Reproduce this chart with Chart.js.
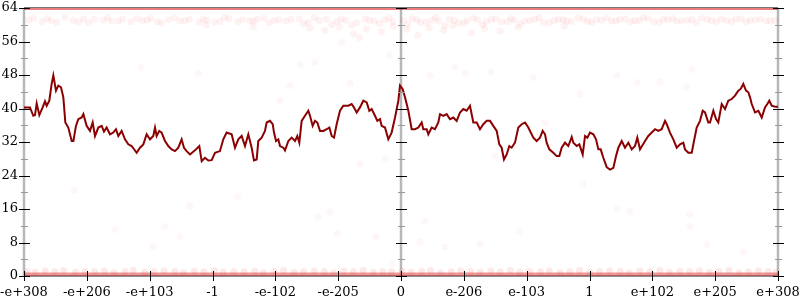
<!DOCTYPE html>
<html>
<head>
<meta charset="utf-8">
<script src="https://cdn.jsdelivr.net/npm/chart.js@4.4.0/dist/chart.umd.min.js"></script>
<style>
html, body { margin: 0; padding: 0; background: #fff; }
#wrap { width: 800px; height: 300px; }
</style>
</head>
<body>
<div id="wrap"><canvas id="chart" width="800" height="300"></canvas></div>
<script>
// x axis: evenly spaced positions, odd float labels
const xTickValues = [-6, -5, -4, -3, -2, -1, 0, 1, 2, 3, 4, 5, 6];
const xTickLabels = ['-e+308', '-e+206', '-e+103', '-1', '-e-102', '-e-205', '0', 'e-206', 'e-103', '1', 'e+102', 'e+205', 'e+308'];
const yMajorTicks = [0, 8, 16, 24, 32, 40, 48, 56, 64];
const yMinorTicks = [4, 12, 20, 28, 36, 44, 52, 60];
const verticalAxes = [-6, 0, 6];

// main series
const lineX = [
  -6.00, -5.905, -5.852, -5.825, -5.798, -5.756, -5.703, -5.666, -5.639, -5.597,
  -5.560, -5.533, -5.491, -5.454, -5.411, -5.374, -5.342, -5.295, -5.241, -5.214,
  -5.173, -5.136, -5.082, -5.055, -5.003, -4.950, -4.907, -4.870, -4.817, -4.764,
  -4.727, -4.685, -4.632, -4.579, -4.536, -4.499, -4.446, -4.393, -4.340, -4.287,
  -4.207, -4.154, -4.101, -4.048, -3.995, -3.942, -3.915, -3.889, -3.847, -3.810,
  -3.756, -3.703, -3.650, -3.597, -3.544, -3.491, -3.454, -3.412, -3.358, -3.279,
  -3.210, -3.172, -3.120, -3.066, -3.013, -2.960, -2.881, -2.828, -2.775, -2.695,
  -2.642, -2.589, -2.536, -2.483, -2.430, -2.377, -2.340, -2.297, -2.271, -2.217,
  -2.165, -2.138, -2.085, -2.042, -2.021, -1.989, -1.952, -1.926, -1.873, -1.846,
  -1.793, -1.740, -1.687, -1.650, -1.618, -1.581, -1.528, -1.475, -1.448, -1.406,
  -1.369, -1.332, -1.289, -1.236, -1.183, -1.140, -1.103, -1.066, -1.024, -0.971,
  -0.918, -0.838, -0.785, -0.748, -0.705, -0.653, -0.600, -0.546, -0.504, -0.467,
  -0.414, -0.377, -0.334, -0.308, -0.255, -0.202, -0.149, -0.095, -0.042, -0.016,
  0.026, 0.064, 0.117, 0.170, 0.223, 0.276, 0.329, 0.355, 0.409, 0.435,
  0.488, 0.541, 0.594, 0.621, 0.674, 0.727, 0.780, 0.833, 0.886, 0.939,
  0.992, 1.045, 1.098, 1.151, 1.205, 1.257, 1.310, 1.364, 1.417, 1.469,
  1.523, 1.565, 1.602, 1.639, 1.682, 1.724, 1.761, 1.814, 1.867, 1.921,
  1.974, 2.026, 2.106, 2.159, 2.212, 2.255, 2.292, 2.318, 2.361, 2.424,
  2.478, 2.520, 2.557, 2.610, 2.663, 2.717, 2.743, 2.796, 2.838, 2.892,
  2.929, 2.966, 3.008, 3.061, 3.104, 3.141, 3.178, 3.220, 3.274, 3.327,
  3.380, 3.422, 3.459, 3.513, 3.565, 3.618, 3.672, 3.724, 3.761, 3.804,
  3.884, 3.936, 3.990, 4.043, 4.095, 4.149, 4.202, 4.229, 4.281, 4.334,
  4.388, 4.441, 4.493, 4.520, 4.573, 4.627, 4.663, 4.706, 4.759, 4.802,
  4.838, 4.891, 4.918, 4.971, 5.014, 5.050, 5.104, 5.157, 5.209, 5.263,
  5.316, 5.368, 5.406, 5.448, 5.491, 5.528, 5.555, 5.582, 5.634, 5.688,
  5.741, 5.793, 5.830, 5.862, 5.900, 5.953, 6.000
];
const lineY = [
  40.26, 40.26, 38.26, 38.42, 41.22, 38.42, 40.26, 41.70, 40.66, 41.86,
  45.87, 47.88, 44.27, 45.47, 45.07, 42.67, 36.65, 35.45, 32.24, 32.24,
  35.85, 37.45, 37.85, 38.66, 35.85, 34.65, 36.65, 33.44, 35.45, 35.85,
  34.49, 35.45, 33.84, 34.25, 35.05, 33.44, 34.65, 32.64, 31.44, 31.04,
  29.43, 30.64, 31.44, 33.84, 32.64, 33.44, 35.45, 33.44, 34.65, 34.25,
  32.24, 31.04, 30.24, 29.83, 30.64, 32.64, 30.64, 29.83, 29.03, 30.00,
  31.04, 27.43, 28.23, 27.59, 27.67, 29.43, 29.83, 32.64, 34.25, 33.84,
  30.64, 32.64, 33.44, 31.04, 33.84, 30.64, 27.59, 27.83, 32.24, 33.04,
  34.65, 36.65, 37.05, 36.25, 34.25, 32.24, 32.64, 31.04, 30.64, 30.00,
  32.24, 33.04, 32.24, 33.44, 31.84, 37.05, 38.26, 39.46, 38.26, 35.85,
  37.05, 36.65, 34.65, 34.65, 35.05, 35.45, 33.44, 33.04, 36.25, 39.46,
  40.66, 40.66, 41.06, 40.26, 39.06, 40.26, 41.86, 41.46, 39.46, 39.86,
  38.26, 37.05, 37.45, 35.85, 35.45, 32.64, 34.25, 37.85, 41.86, 45.47,
  44.67, 42.67, 39.46, 35.05, 35.05, 35.45, 36.65, 35.05, 35.05, 33.84,
  35.45, 35.05, 36.65, 38.66, 38.26, 38.66, 37.45, 37.85, 37.05, 39.06,
  39.86, 39.46, 40.66, 36.65, 36.65, 35.05, 36.25, 37.05, 37.05, 35.85,
  34.65, 31.44, 30.64, 27.83, 29.03, 31.04, 30.64, 31.84, 35.45, 36.25,
  36.65, 35.45, 33.04, 32.24, 33.04, 34.65, 33.84, 31.84, 30.24, 29.43,
  28.63, 28.63, 30.64, 31.84, 31.04, 33.20, 31.84, 31.04, 31.44, 29.03,
  33.44, 33.04, 34.25, 33.84, 32.64, 30.24, 30.24, 28.23, 25.98, 25.42,
  25.82, 28.63, 30.64, 32.24, 30.64, 31.84, 30.24, 31.04, 33.04, 30.24,
  32.24, 33.44, 34.25, 35.05, 34.65, 35.05, 37.05, 36.25, 34.25, 32.64,
  30.64, 31.44, 31.84, 30.24, 29.43, 29.43, 32.24, 35.45, 37.05, 39.46,
  39.06, 36.65, 36.65, 39.46, 37.45, 36.65, 41.06, 39.86, 41.86, 42.26,
  43.07, 44.27, 44.67, 45.87, 44.27, 43.87, 42.67, 41.06, 39.06, 39.46,
  37.85, 40.26, 41.06, 41.86, 40.66, 40.42, 40.42
];

// faint scatter points
const edgeX = [-6, 6];
const topEdgeY = [63.8, 63.8];
const bottomEdgeY = [0.35, 0.35];

const topDotsX = [
  -5.92, -5.71, -5.63, -5.48, -5.22, -5.05, -4.97, -4.74, -4.61, -4.43,
  -4.30, -4.12, -3.98, -3.81, -3.70, -3.52, -3.37, -3.21, -3.09, -2.88,
  -2.74, -2.60, -2.41, -2.29, -2.10, -1.94, -1.83, -1.62, -1.48, -1.30,
  -1.19, -1.02, -0.88, -0.71, -0.57, -0.42, -0.26, -0.13, 0.04, 0.18,
  0.31, 0.49, 0.60, 0.77, 0.92, 1.05, 1.22, 1.36, 1.51, 1.69,
  1.80, 1.97, 2.13, 2.27, 2.44, 2.58, 2.71, 2.90, 3.03, 3.19,
  3.35, 3.48, 3.66, 3.79, 3.93, 4.11, 4.25, 4.39, 4.56, 4.70,
  4.87, 5.02, 5.18, 5.33, 5.49, 5.64, 5.81, 5.95
];
const topDotsY = [
  61.2, 60.8, 61.5, 60.6, 61.0, 61.4, 60.5, 61.1, 60.9, 61.3,
  60.7, 61.0, 61.6, 60.4, 61.2, 60.9, 61.3, 60.6, 61.1, 60.8,
  61.5, 60.7, 61.0, 61.3, 60.5, 61.2, 60.9, 61.4, 60.6, 61.0,
  61.3, 60.8, 61.1, 60.5, 61.4, 60.9, 61.2, 60.7, 61.0, 61.5,
  60.6, 61.1, 60.9, 61.3, 60.4, 61.0, 61.2, 60.8, 61.4, 60.7,
  61.1, 60.9, 61.3, 60.5, 61.0, 61.2, 60.8, 61.4, 60.6, 61.1,
  60.9, 61.3, 60.7, 61.0, 61.5, 60.6, 61.2, 60.9, 61.1, 60.5,
  61.3, 60.8, 61.0, 61.4, 60.7, 61.2, 60.9, 61.1
];
const topDots2X = [
  -5.84, -5.57, -5.35, -5.13, -4.88, -4.67, -4.50, -4.21, -4.04, -3.88,
  -3.61, -3.44, -3.15, -2.97, -2.81, -2.52, -2.35, -2.18, -2.02, -1.75,
  -1.55, -1.38, -1.10, -0.95, -0.79, -0.50, -0.34, -0.19, 0.11, 0.25,
  0.40, 0.55, 0.70, 0.85, 1.00, 1.15, 1.30, 1.44, 1.60, 1.75,
  1.90, 2.05, 2.20, 2.36, 2.51, 2.64, 2.82, 2.97, 3.11, 3.27,
  3.42, 3.57, 3.72, 3.86, 4.02, 4.18, 4.33, 4.47, 4.63, 4.78,
  4.94, 5.10, 5.26, 5.41, 5.56, 5.72, 5.88
];
const topDots2Y = [
  61.6, 61.0, 61.8, 60.7, 61.3, 61.7, 60.9, 61.5, 61.1, 60.8,
  61.7, 61.0, 61.4, 60.6, 61.8, 61.2, 60.9, 61.6, 61.0, 61.3,
  60.2, 61.7, 60.0, 61.4, 59.9, 61.1, 60.3, 61.6, 60.1, 61.2,
  60.6, 61.8, 59.8, 61.1, 60.4, 61.6, 60.0, 61.3, 60.7, 61.5,
  60.2, 61.0, 61.7, 60.5, 61.3, 60.9, 61.6, 60.8, 61.2, 61.7,
  60.9, 61.4, 61.0, 61.7, 60.8, 61.3, 61.5, 60.9, 61.2, 61.6,
  61.0, 61.4, 60.8, 61.5, 61.1, 61.3, 60.9
];
const lowTopDotsX = [-1.45, -1.21, -0.98, -0.76, -0.55, -0.31, -0.12, 0.09, 0.27, 0.45, 0.68, 0.83, 1.12, 1.33, 1.58, 1.86, -2.35, -3.10, 2.60, -0.66];
const lowTopDotsY = [59.2, 58.6, 59.5, 57.8, 59.0, 58.3, 59.6, 58.9, 57.5, 59.3, 58.7, 59.8, 58.1, 59.1, 58.5, 59.4, 59.6, 59.9, 59.7, 56.9];

const bottomDotsX = [
  -5.95, -5.82, -5.66, -5.51, -5.37, -5.18, -5.03, -4.88, -4.72, -4.57,
  -4.39, -4.26, -4.08, -3.93, -3.77, -3.60, -3.46, -3.29, -3.14, -2.97,
  -2.83, -2.66, -2.50, -2.33, -2.19, -2.02, -1.87, -1.70, -1.55, -1.38,
  -1.22, -1.07, -0.91, -0.76, -0.60, -0.44, -0.29, -0.15, 0.02, 0.16,
  0.33, 0.47, 0.63, 0.80, 0.95, 1.11, 1.26, 1.43, 1.58, 1.74,
  1.89, 2.05, 2.22, 2.36, 2.53, 2.69, 2.84, 3.01, 3.16, 3.32,
  3.49, 3.63, 3.80, 3.96, 4.12, 4.27, 4.44, 4.59, 4.75, 4.91,
  5.06, 5.22, 5.38, 5.53, 5.69, 5.84, 5.97
];
const bottomDotsY = [
  1.1, 0.9, 1.2, 1.0, 1.3, 0.9, 1.1, 1.0, 1.2, 0.8,
  1.1, 1.3, 0.9, 1.0, 1.2, 1.1, 0.8, 1.2, 1.0, 1.3,
  0.9, 1.1, 1.0, 1.2, 0.8, 1.1, 1.3, 0.9, 1.0, 1.2,
  1.1, 0.8, 1.2, 1.0, 1.3, 0.9, 1.1, 1.0, 1.2, 0.9,
  1.1, 1.3, 0.8, 1.0, 1.2, 1.1, 0.9, 1.2, 1.0, 1.3,
  0.9, 1.1, 1.0, 1.2, 0.8, 1.1, 1.3, 0.9, 1.0, 1.2,
  1.1, 0.8, 1.2, 1.0, 1.3, 0.9, 1.1, 1.0, 1.2, 0.9,
  1.1, 1.3, 0.8, 1.0, 1.2, 1.1, 0.9
];

const sparseX = [
  -4.14, -3.23, -4.55, -3.76, -3.95, -3.52, -3.36, -1.37, -0.94, -0.81,
  1.02, 1.43, -0.18, -1.32, -1.13, -1.02, -0.40, -0.14, 0.30, 0.38,
  0.70, 1.26, 1.89, 3.44, 3.76, 4.12, 4.63, 4.54, 3.44, 3.64,
  4.60, 5.44, 4.87, 4.60, -1.77, -1.60, -1.93, 0.46, 0.86, 1.50,
  -0.25, -0.65, 2.10, 2.30, 2.85, 3.72, 5.40, -5.20, -2.60, 2.90
];
const sparseY = [
  49.8, 48.4, 11.1, 11.8, 7.0, 9.4, 16.8, 51.0, 55.8, 46.0,
  48.4, 48.8, 52.7, 14.2, 15.2, 10.1, 9.4, 2.9, 8.2, 13.0,
  7.0, 7.7, 10.6, 47.9, 46.2, 46.4, 49.3, 45.0, 16.1, 15.4,
  14.7, 5.8, 7.5, 11.8, 45.5, 50.5, 41.9, 47.9, 50.0, 28.6,
  27.9, 26.7, 47.4, 36.6, 43.5, 33.0, 46.0, 20.5, 19.0, 22.0
];

const pts = (xs, ys) => xs.map((x, i) => ({ x: x, y: ys[i] }));

const dotStyle = {
    type: 'scatter',
    backgroundColor: 'rgba(235, 70, 70, 0.07)',
    borderWidth: 0,
    pointRadius: 3.5,
    pointHoverRadius: 3.5
};

// axis lines and ticks drawn through the scales
const axesPlugin = {
    id: 'axesPlugin',
    beforeDatasetsDraw(chart) {
        const { ctx, scales: { x, y } } = chart;
        const top = y.getPixelForValue(64);
        const bottom = y.getPixelForValue(0);
        ctx.save();
        ctx.strokeStyle = '#b8b8b8';
        ctx.lineWidth = 2.5;
        verticalAxes.forEach(v => {
            const px = x.getPixelForValue(v);
            ctx.beginPath();
            ctx.moveTo(px, top);
            ctx.lineTo(px, bottom);
            ctx.stroke();
        });
        ctx.strokeStyle = '#666';
        ctx.lineWidth = 1.5;
        ctx.beginPath();
        ctx.moveTo(x.getPixelForValue(-6), bottom);
        ctx.lineTo(x.getPixelForValue(6), bottom);
        ctx.stroke();
        ctx.strokeStyle = '#777';
        ctx.lineWidth = 1;
        ctx.beginPath();
        ctx.moveTo(x.getPixelForValue(-6), top - 0.5);
        ctx.lineTo(x.getPixelForValue(6), top - 0.5);
        ctx.stroke();
        ctx.restore();
    },
    afterDatasetsDraw(chart) {
        const { ctx, scales: { x, y } } = chart;
        const bottom = y.getPixelForValue(0);
        ctx.save();
        verticalAxes.forEach(v => {
            const px = Math.round(x.getPixelForValue(v));
            ctx.lineWidth = 1;
            ctx.strokeStyle = '#999';
            yMinorTicks.forEach(t => {
                const py = Math.round(y.getPixelForValue(t)) + 0.5;
                ctx.beginPath();
                ctx.moveTo(px - 3, py);
                ctx.lineTo(px + 4, py);
                ctx.stroke();
            });
            ctx.strokeStyle = '#000';
            yMajorTicks.forEach(t => {
                const py = Math.round(y.getPixelForValue(t)) + 0.5;
                ctx.beginPath();
                ctx.moveTo(px - 5, py);
                ctx.lineTo(px + 6, py);
                ctx.stroke();
            });
        });
        ctx.strokeStyle = '#000';
        ctx.lineWidth = 1;
        xTickValues.forEach(t => {
            const px = Math.round(x.getPixelForValue(t)) + 0.5;
            ctx.beginPath();
            ctx.moveTo(px, bottom - 5);
            ctx.lineTo(px, bottom + 5);
            ctx.stroke();
        });
        ctx.restore();
    }
};

const labelFont = { family: "'DejaVu Serif', serif", size: 13 };

new Chart(document.getElementById('chart').getContext('2d'), {
    type: 'scatter',
    data: {
        datasets: [
            {
                type: 'line',
                data: pts(lineX, lineY),
                borderColor: '#8b0000',
                borderWidth: 2,
                pointRadius: 0,
                tension: 0,
                fill: false
            },
            {
                type: 'line',
                data: pts(edgeX, topEdgeY),
                borderColor: 'rgba(220, 40, 40, 0.6)',
                borderWidth: 2.5,
                pointRadius: 0
            },
            {
                type: 'line',
                data: pts(edgeX, bottomEdgeY),
                borderColor: 'rgba(220, 50, 50, 0.5)',
                borderWidth: 4,
                pointRadius: 0
            },
            Object.assign({ data: pts(topDotsX, topDotsY) }, dotStyle),
            Object.assign({ data: pts(topDots2X, topDots2Y) }, dotStyle),
            Object.assign({ data: pts(lowTopDotsX, lowTopDotsY) }, dotStyle),
            Object.assign({ data: pts(bottomDotsX, bottomDotsY) }, dotStyle, { backgroundColor: 'rgba(235, 70, 70, 0.12)' }),
            Object.assign({ data: pts(sparseX, sparseY) }, dotStyle, { backgroundColor: 'rgba(235, 70, 70, 0.045)' })
        ]
    },
    options: {
        responsive: false,
        animation: false,
        events: [],
        layout: { padding: { top: 8, left: 0, right: 0, bottom: 0 } },
        plugins: {
            legend: { display: false },
            tooltip: { enabled: false }
        },
        scales: {
            x: {
                type: 'linear',
                min: -6,
                max: 6,
                afterBuildTicks: s => { s.ticks = xTickValues.map(v => ({ value: v })); },
                afterFit: s => { s.height = 24; s.paddingLeft = 0; s.paddingRight = 22; },
                grid: { display: false, drawTicks: false },
                border: { display: false },
                ticks: {
                    autoSkip: false,
                    maxRotation: 0,
                    padding: 9,
                    color: '#000',
                    font: labelFont,
                    callback: (v, i) => xTickLabels[i]
                }
            },
            y: {
                min: 0,
                max: 64,
                afterBuildTicks: s => { s.ticks = yMajorTicks.map(v => ({ value: v })); },
                afterFit: s => { s.width = 24; s.paddingTop = 0; s.paddingBottom = 0; },
                grid: { display: false, drawTicks: false },
                border: { display: false },
                ticks: {
                    padding: 6,
                    color: '#000',
                    font: labelFont
                }
            }
        }
    },
    plugins: [axesPlugin]
});
</script>
</body>
</html>
